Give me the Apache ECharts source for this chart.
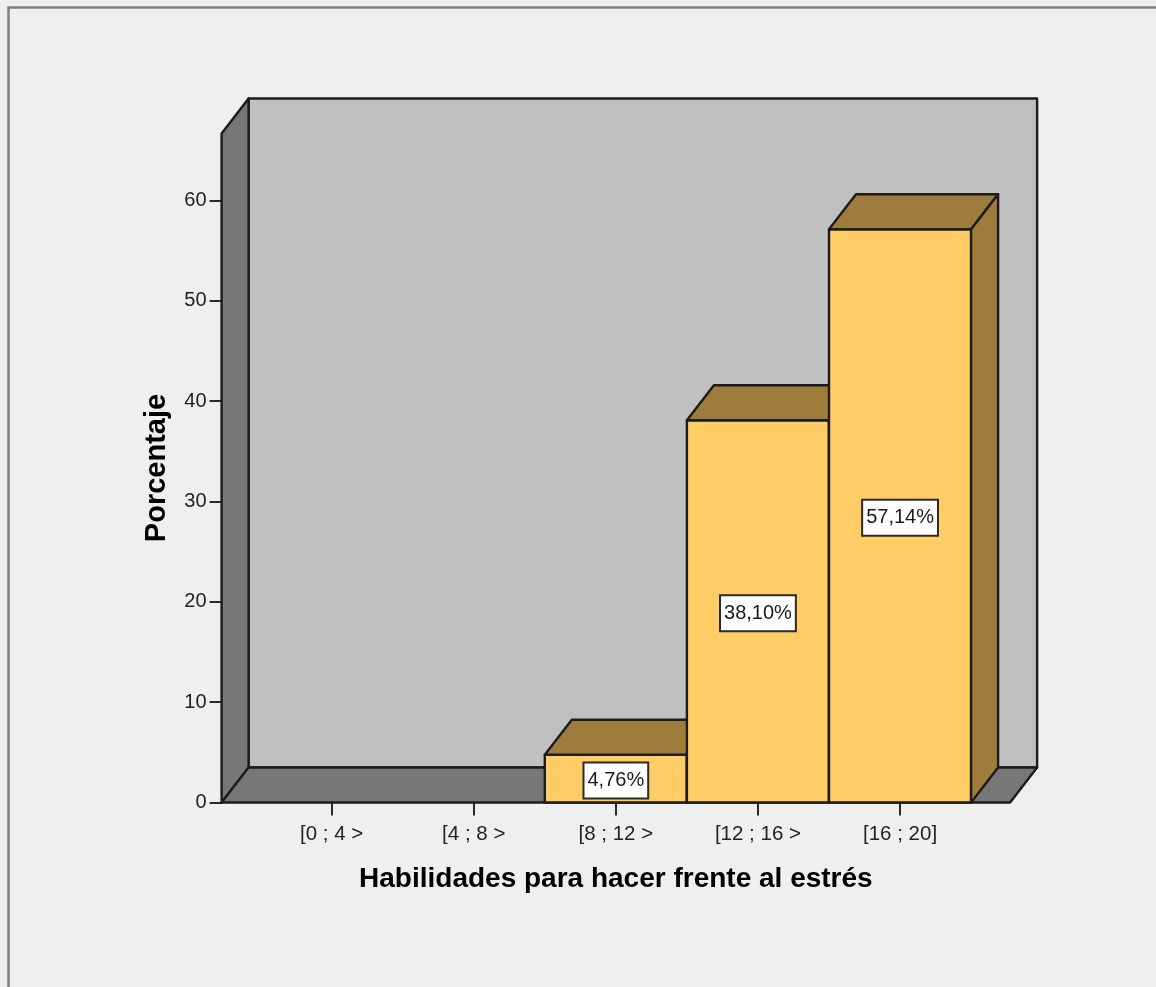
<!DOCTYPE html>
<html><head><meta charset="utf-8">
<style>html,body{margin:0;padding:0;background:#efefef;overflow:hidden}#c{width:1156px;height:987px}</style>
<script src="https://cdn.jsdelivr.net/npm/echarts@6/dist/echarts.min.js"></script>
</head><body><div id="c"></div>
<script>
const categories = ['[0 ; 4 >','[4 ; 8 >','[8 ; 12 >','[12 ; 16 >','[16 ; 20]'];
const percentages = [0, 0, 4.76, 38.10, 57.14];
const yTicks = [0,10,20,30,40,50,60];
const xTitle = 'Habilidades para hacer frente al estrés';
const yTitle = 'Porcentaje';

const DX = 27, DY = -35, PAD = 39, STROKE = '#1c1c1c';
const FONT = '"Liberation Sans", Arial, sans-serif';
const chart = echarts.init(document.getElementById('c'), null, {renderer:'canvas'});
const poly = (points, fill, w) => ({type:'polygon', shape:{points}, style:{fill, stroke:STROKE, lineWidth:w||2.4, lineJoin:'round'}});

chart.setOption({
  backgroundColor:'#efefef',
  animation:false,
  graphic:[{type:'rect', silent:true, z:0, shape:{x:8.5,y:7.5,width:1400,height:1400}, style:{fill:'none',stroke:'#7f7f7f',lineWidth:2.5}}],
  grid:{left:260.6, top:133.5, width:710.5, height:669},
  xAxis:{type:'category', data:categories, boundaryGap:true, z:1,
    axisLine:{show:false},
    axisTick:{show:true, alignWithLabel:true, length:13, lineStyle:{color:'#2a2a2a',width:2}},
    axisLabel:{interval:0, margin:21, fontFamily:FONT, fontSize:20.5, color:'#222'},
    name:xTitle, nameLocation:'middle', nameGap:63,
    nameTextStyle:{fontFamily:FONT, fontWeight:'bold', fontSize:28, color:'#000'}},
  yAxis:{type:'value', min:0, max:66.68, interval:10, offset:PAD, z:1,
    splitLine:{show:false},
    axisLine:{show:false},
    axisTick:{show:true, length:12, customValues:yTicks, lineStyle:{color:'#2a2a2a',width:2}},
    axisLabel:{margin:15, customValues:yTicks, fontFamily:FONT, fontSize:20, color:'#222', padding:[6,0,0,0]},
    name:yTitle, nameLocation:'middle', nameGap:50, nameRotate:90,
    nameTextStyle:{fontFamily:FONT, fontWeight:'bold', fontSize:29, color:'#000'}},
  series:[
    {type:'custom', z:2, silent:true, clip:false, data:[0],
     renderItem(params){
       const c = params.coordSys;
       const l = c.x-PAD, r = c.x+c.width+PAD, b = c.y+c.height, t = c.y;
       return {type:'group', children:[
         poly([[l+DX,b+DY],[r+DX,b+DY],[r+DX,t+DY],[l+DX,t+DY]],'#c0c0c0'),
         poly([[l,b],[l+DX,b+DY],[l+DX,t+DY],[l,t]],'#777777'),
         poly([[l,b],[r,b],[r+DX,b+DY],[l+DX,b+DY]],'#777777')
       ]};
     }},
    {type:'custom', z:3, silent:true, clip:false,
     data:percentages.map((v,i)=>[i,v]),
     renderItem(params, api){
       const i = api.value(0), v = api.value(1);
       if(!v) return null;
       const w = api.size([1,0])[0];
       const base = api.coord([i,0]), top = api.coord([i,v]);
       const l = base[0]-w/2, r = base[0]+w/2, b = base[1], t = top[1];
       return {type:'group', children:[
         poly([[l,b],[r,b],[r,t],[l,t]],'#ffcc66'),
         poly([[l,t],[r,t],[r+DX,t+DY],[l+DX,t+DY]],'#9e7d3c'),
         poly([[r,b],[r+DX,b+DY],[r+DX,t+DY],[r,t]],'#9e7d3c'),
         {type:'text', z2:10, style:{
           text:v.toFixed(2).replace('.',',')+'%',
           x:base[0], y:api.coord([i,v/2])[1]+2,
           align:'center', verticalAlign:'middle',
           font:'20px '+FONT, fill:'#1a1a1a',
           backgroundColor:'#ffffff', borderColor:'#2a2a2a', borderWidth:2,
           padding:[8,3,6,3]
         }}
       ]};
     }}
  ]
});
</script></body></html>
